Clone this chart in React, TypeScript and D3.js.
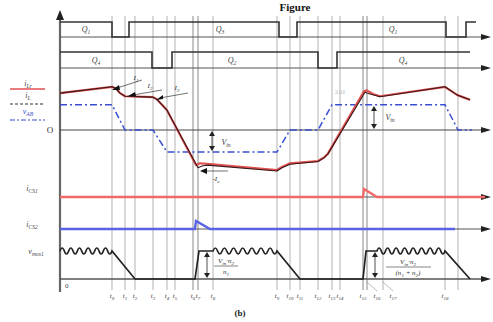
import * as d3 from "d3";

const W = 493;
const H = 322;

// time markers (arbitrary time units, 0 = vertical axis)
const TIMES = [52, 65, 75, 93, 107, 115, 133, 138, 153, 217, 230, 240, 258, 272, 280, 303, 307, 323, 385, 398];
const TIME_LABELS = ["0", "1", "2", "3", "4", "5", "6", "7", "8", "9", "10", "11", "12", "13", "14", "15", "16", "17", "18", ""];

// gate signals
const Q_TOP = [[0, 1], [52, 0], [69, 1], [219, 0], [237, 1], [386, 0], [406, 1], [416, 1]];
const Q_BOT = [[0, 1], [92, 0], [112, 1], [258, 0], [277, 1], [410, 1]];
const Q_TOP_NAMES = ["1", "3", "1"];
const Q_BOT_NAMES = ["4", "2", "4"];
const Q_TOP_LABEL_T = [26, 160, 333];
const Q_BOT_LABEL_T = [36, 172, 343];

// currents, normalised
const I_L = [[0, 0.82], [52, 0.96], [56, 0.92], [60, 0.82], [65, 0.75], [93, 0.73], [97, 0.68], [102, 0.56], [107, 0.44], [138, -0.84], [142, -0.8], [147, -0.78], [217, -0.91], [222, -0.84], [230, -0.76], [258, -0.7], [264, -0.62], [268, -0.53], [305, 0.84], [310, 0.8], [320, 0.74], [385, 0.96], [397, 0.78], [410, 0.67]];
const I_LR = [[0, 0.82], [52, 0.96], [56, 0.92], [60, 0.82], [65, 0.75], [93, 0.73], [97, 0.68], [102, 0.56], [107, 0.44], [136, -0.78], [140, -0.74], [147, -0.75], [217, -0.89], [222, -0.82], [230, -0.74], [258, -0.69], [264, -0.61], [268, -0.52], [304, 0.86], [307, 0.88], [313, 0.8], [320, 0.75], [385, 0.96], [397, 0.78], [410, 0.67]];
const V_AB = [[0, 0.56], [52, 0.56], [65, 0], [93, 0], [107, -0.49], [217, -0.49], [230, 0], [258, 0], [272, 0.56], [385, 0.56], [398, 0], [412, 0]];

const I_CS1 = [[0, 0], [303, 0], [304, 0.9], [317, 0], [425, 0]];
const I_CS2 = [[0, 0], [135, 0], [136, 0.9], [150, 0], [395, 0]];

// drain-source voltage, third field = rippled segment
const V_MOS: [number, number, boolean][] = [
  [0, 1, true], [52, 1, false], [75, 0, false], [135, 0, false], [139, 1, false],
  [153, 1, true], [217, 1, false], [240, 0, false], [303, 0, false], [306, 1, false],
  [317, 1, true], [385, 1, false], [410, 0, false],
];

const x = d3.scaleLinear().domain([0, 430]).range([60, 490]);
const yQ1 = d3.scaleLinear().domain([0, 1]).range([37, 22]);
const yQ2 = d3.scaleLinear().domain([0, 1]).range([68, 52]);
const yI = d3.scaleLinear().domain([-1, 1]).range([175, 85]);
const yCS1 = d3.scaleLinear().domain([0, 1]).range([197, 188]);
const yCS2 = d3.scaleLinear().domain([0, 1]).range([229, 220]);
const yV = d3.scaleLinear().domain([0, 1]).range([279, 251]);

const SERIF = "'Liberation Serif', 'DejaVu Serif', serif";

function Sub({ x: px, y: py, base, sub, color = "#333", size = 8, anchor = "middle" }: any) {
  return (
    <text x={px} y={py} fontFamily={SERIF} fontStyle="italic" fontSize={size} fill={color} textAnchor={anchor}>
      {base}
      <tspan fontSize={size * 0.7} dy={2}>{sub}</tspan>
    </text>
  );
}

function Arrow({ px, py }: { px: number; py: number }) {
  return <path d={`M${px - 9},${py - 3}L${px + 1},${py}L${px - 9},${py + 3}Z`} fill="#222" />;
}

function DoubleArrow({ px, y1, y2 }: { px: number; y1: number; y2: number }) {
  return (
    <g>
      <line x1={px} x2={px} y1={y1 + 3} y2={y2 - 3} stroke="#222" strokeWidth={0.8} />
      <path d={`M${px - 3},${y1 + 5}L${px},${y1}L${px + 3},${y1 + 5}Z`} fill="#222" />
      <path d={`M${px - 3},${y2 - 5}L${px},${y2}L${px + 3},${y2 - 5}Z`} fill="#222" />
    </g>
  );
}

function ripplePath(x0: number, x1: number, y: number) {
  const n = Math.max(2, Math.round((x1 - x0) / 9));
  const step = (x1 - x0) / n;
  let d = "";
  for (let i = 0; i < n; i++) {
    const a = x0 + i * step;
    d += ` Q${a + step / 4},${y - 6} ${a + step / 2},${y} Q${a + (3 * step) / 4},${y + 6} ${a + step},${y}`;
  }
  return d;
}

export default function App() {
  const stepLine = (ys: d3.ScaleLinear<number, number>) =>
    d3.line<number[]>().x((d) => x(d[0])).y((d) => ys(d[1])).curve(d3.curveStepAfter);
  const line = (ys: d3.ScaleLinear<number, number>) =>
    d3.line<number[]>().x((d) => x(d[0])).y((d) => ys(d[1]));

  // v_mos path
  let vPath = "";
  V_MOS.forEach((p, i) => {
    const px = x(p[0]);
    const py = yV(p[1]);
    if (i === 0) vPath += `M${px},${py}`;
    const next = V_MOS[i + 1];
    if (!next) return;
    if (p[2]) vPath += ripplePath(px, x(next[0]), py);
    else vPath += ` L${x(next[0])},${yV(next[1])}`;
  });

  const axisYs = [yQ1(0), yQ2(0), yI(0), yCS1(0), yCS2(0), yV(0)];

  return (
    <svg width={W} height={H} style={{ position: "absolute", left: 0, top: 0, background: "#fff" }}>
      <text x={295} y={11} fontFamily={SERIF} fontWeight="bold" fontSize={11} textAnchor="middle" fill="#111">Figure</text>

      {/* time markers */}
      {TIMES.map((t, i) => (
        <line key={i} x1={x(t)} x2={x(t)} y1={16} y2={290} stroke="#c4c4c4" strokeWidth={i === 6 || i === 7 || i === 15 || i === 16 ? 2 : 1.3} />
      ))}

      {/* axes */}
      <line x1={60} x2={60} y1={14} y2={292} stroke="#666" strokeWidth={2.2} />
      <path d="M56,20L60,10L64,20Z" fill="#222" />
      {axisYs.map((ay, i) => (
        <g key={i}>
          <line x1={60} x2={484} y1={ay} y2={ay} stroke={i === 2 ? "#444" : "#555"} strokeWidth={i === 5 ? 1.6 : 1} />
          <Arrow px={490} py={ay} />
        </g>
      ))}

      {/* gate signals */}
      <path d={stepLine(yQ1)(Q_TOP) || ""} fill="none" stroke="#333" strokeWidth={1.6} />
      <path d={stepLine(yQ2)(Q_BOT) || ""} fill="none" stroke="#333" strokeWidth={1.6} />
      {Q_TOP_NAMES.map((n, i) => (
        <Sub key={i} x={x(Q_TOP_LABEL_T[i])} y={32} base="Q" sub={n} size={8} color="#444" />
      ))}
      {Q_BOT_NAMES.map((n, i) => (
        <Sub key={i} x={x(Q_BOT_LABEL_T[i])} y={63} base="Q" sub={n} size={8} color="#444" />
      ))}

      {/* v_AB */}
      <path d={line(yI)(V_AB) || ""} fill="none" stroke="#3a4fd0" strokeWidth={1.5} strokeDasharray="7,3,2,3" />
      {/* currents */}
      <path d={line(yI)(I_LR) || ""} fill="none" stroke="#e05050" strokeWidth={2.2} strokeLinejoin="round" />
      <path d={line(yI)(I_L) || ""} fill="none" stroke="#3a1818" strokeWidth={1.1} strokeLinejoin="round" />

      {/* annotations on currents */}
      <g stroke="#333" strokeWidth={0.7} fill="none">
        <line x1={117} x2={142} y1={88} y2={80} />
        <line x1={133} x2={162} y1={95} y2={90} />
        <line x1={160} x2={188} y1={98} y2={93} />
        <line x1={203} x2={228} y1={171} y2={171} />
      </g>
      <g fill="#111">
        <path d="M112,90L119,85L120,90Z" />
        <path d="M128,96L135,92L136,96Z" />
        <path d="M156,100L163,95L163,99Z" />
        <path d="M200,171L207,168L207,174Z" />
      </g>
      <Sub x={136} y={80} base="I" sub="1" size={7} />
      <Sub x={150} y={88} base="I" sub="2" size={7} />
      <Sub x={177} y={90} base="I" sub="3" size={7} />
      <Sub x={216} y={181} base="-I" sub="o" size={7} />
      <text x={340} y={94} fontFamily={SERIF} fontSize={7} fill="#bbb" textAnchor="middle">2ΔI</text>
      <DoubleArrow px={212} y1={131} y2={151} />
      <Sub x={226} y={145} base="V" sub="in" size={8} />
      <DoubleArrow px={374} y1={106} y2={129} />
      <Sub x={390} y={120} base="V" sub="in" size={8} />

      {/* switch currents */}
      <path d={line(yCS1)(I_CS1) || ""} fill="none" stroke="#f06a6a" strokeWidth={2.4} />
      <path d={line(yCS2)(I_CS2) || ""} fill="none" stroke="#5a62e8" strokeWidth={2.4} />

      {/* v_mos */}
      <path d={vPath} fill="none" stroke="#222" strokeWidth={1.7} />
      <DoubleArrow px={207} y1={252} y2={278} />
      <text x={226} y={263} fontFamily={SERIF} fontStyle="italic" fontSize={7} fill="#333" textAnchor="middle">V<tspan fontSize={5} dy={1.5}>in</tspan><tspan dy={-1.5}>·n</tspan><tspan fontSize={5} dy={1.5}>2</tspan></text>
      <line x1={214} x2={238} y1={266} y2={266} stroke="#333" strokeWidth={0.6} />
      <text x={226} y={274} fontFamily={SERIF} fontStyle="italic" fontSize={7} fill="#333" textAnchor="middle">n<tspan fontSize={5} dy={1.5}>1</tspan></text>
      <DoubleArrow px={375} y1={252} y2={278} />
      <text x={408} y={264} fontFamily={SERIF} fontStyle="italic" fontSize={7} fill="#333" textAnchor="middle">V<tspan fontSize={5} dy={1.5}>in</tspan><tspan dy={-1.5}>·n</tspan><tspan fontSize={5} dy={1.5}>2</tspan></text>
      <line x1={386} x2={431} y1={267} y2={267} stroke="#333" strokeWidth={0.6} />
      <text x={408} y={275} fontFamily={SERIF} fontStyle="italic" fontSize={7} fill="#333" textAnchor="middle">(n<tspan fontSize={5} dy={1.5}>1</tspan><tspan dy={-1.5}> + n</tspan><tspan fontSize={5} dy={1.5}>2</tspan><tspan dy={-1.5}>)</tspan></text>

      {/* left legend */}
      <Sub x={28} y={86} base="i" sub="Lr" size={8} color="#444" />
      <line x1={10} x2={45} y1={89} y2={89} stroke="#e05050" strokeWidth={1.4} />
      <Sub x={28} y={98} base="i" sub="L" size={8} color="#444" />
      <line x1={10} x2={45} y1={104} y2={104} stroke="#333" strokeWidth={1.2} strokeDasharray="3,2" />
      <Sub x={28} y={114} base="v" sub="AB" size={8} color="#3a4fd0" />
      <line x1={10} x2={45} y1={120} y2={120} stroke="#3a4fd0" strokeWidth={1.2} strokeDasharray="5,2,2,2" />
      <text x={50} y={133} fontFamily={SERIF} fontSize={9} fill="#333" textAnchor="middle">O</text>
      <Sub x={32} y={191} base="i" sub="CS1" size={8} color="#444" />
      <Sub x={32} y={227} base="i" sub="CS2" size={8} color="#444" />
      <Sub x={36} y={254} base="v" sub="mos1" size={8} color="#444" />
      <text x={65} y={288} fontFamily={SERIF} fontSize={7} fill="#444">0</text>

      {/* time labels */}
      {TIMES.map((t, i) => {
        if (!TIME_LABELS[i]) return null;
        const shift = i === 16 || i === 17 ? 10 : 0;
        return (
          <g key={i}>
            {shift > 0 && <line x1={x(t)} x2={x(t) + shift} y1={282} y2={291} stroke="#888" strokeWidth={0.6} />}
            <Sub x={x(t) + shift} y={298} base="t" sub={TIME_LABELS[i]} size={7} color="#444" />
          </g>
        );
      })}
      <text x={240} y={316} fontFamily={SERIF} fontWeight="bold" fontSize={9} fill="#222" textAnchor="middle">(b)</text>
    </svg>
  );
}
